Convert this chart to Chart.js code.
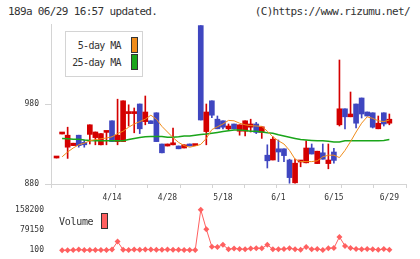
<!DOCTYPE html>
<html>
<head>
<meta charset="utf-8">
<script src="https://cdn.jsdelivr.net/npm/chart.js@4.4.0/dist/chart.umd.min.js"></script>
<style>
  body { margin: 0; background: #fff; width: 420px; height: 259px; overflow: hidden; position: relative;
         font-family: 'DejaVu Sans Mono', monospace; color: #333; }
  .txt { position: absolute; white-space: nowrap; }
  #head { left: 8px; top: 5px; font-size: 11px; letter-spacing: -0.65px; }
  #copy { right: 10px; top: 5px; font-size: 11px; letter-spacing: -0.65px; }
  canvas { position: absolute; left: 0; }
  #main { top: 0; }
  #vol { top: 198px; }
  #legbox { position: absolute; left: 65px; top: 31px; width: 78px; height: 46px; box-sizing: border-box;
            border: 1px solid #d4d4d4; background: #fff; }
  .leg { font-size: 10px; line-height: 10px; letter-spacing: -0.6px; text-align: right; }
  .sw { position: absolute; box-sizing: border-box; border: 1px solid #333; }
</style>
</head>
<body>
<div id="head" class="txt">189a 06/29 16:57 updated.</div>
<div id="copy" class="txt">(C)https://www.rizumu.net/</div>
<canvas id="main" width="420" height="205"></canvas>
<canvas id="vol" width="420" height="64"></canvas>
<div id="legbox"></div>
<div class="txt leg" style="right:299px; top:41px;">5-day MA</div>
<div class="txt leg" style="right:299px; top:58px;">25-day MA</div>
<div class="sw" style="left:131px; top:37px; width:7px; height:16px; background:#f08c1a;"></div>
<div class="sw" style="left:131px; top:54px; width:7px; height:16px; background:#1aa51a;"></div>
<div class="txt" style="left:59px; top:216px; font-size:10px; line-height:11px; letter-spacing:-0.3px;">Volume</div>
<div class="sw" style="left:101px; top:213px; width:7px; height:16px; background:#ff6060;"></div>
<script>
// tick labels
const dateLabels = ['4/14', '4/28', '5/18', '6/1', '6/15', '6/29'];
const dateTickIdx = [10, 20, 30, 40, 50, 60];
const weekMarks = [0, 1, 2, 3, 4, 5, 6, 7, 8, 9, 10, 11];
const priceTicks = [880, 980];
const volTicks = [100, 79150, 158200];

// daily candles (index 0..60)
const opens = [912.5, 942.5, 926, 928, 941, 932, 942, 938, 929, 944.5, 959, 933, 933, 968, 968, 980, 958, 959, 969, 930,
  927.5, 929, 927.5, 925, 930, 928, 1078, 945.5, 984, 961, 959, 949, 955, 946, 946, 951, 955, 944.5, 916, 910,
  924, 924, 910, 881.5, 907.5, 906.5, 925, 905.5, 919, 905.5, 920, 954, 974, 964, 980, 987.5, 970, 969, 949, 969, 956];
const closes = [912.5, 942.5, 941, 931, 928, 929, 954, 945, 943, 944.5, 933, 941, 984, 968, 968, 949, 970, 955.5, 933, 919,
  930, 931, 924, 929, 927.5, 928, 960, 970, 966, 949, 951, 952.5, 949, 954, 959, 955, 944.5, 951.5, 909, 936,
  920, 915.5, 888, 906, 907.5, 925, 917.5, 921, 911, 910, 909.5, 974, 964, 967.5, 956, 967.5, 965, 951, 956, 955, 961];
const highs = [912.5, 942.5, 951, 931, 941, 935, 954, 945, 943, 945, 959, 986, 984, 979, 975, 980, 990, 959, 969, 930,
  930, 950, 927.5, 929, 930, 928, 1078, 980, 984, 965, 959, 955, 955, 954, 959, 961, 957, 951.5, 929, 939,
  935, 924, 911, 911, 907.5, 934, 930, 921, 930, 930, 924.5, 1035, 974, 995, 980, 987.5, 970, 969, 965, 969, 967.5];
const lows = [912.5, 942.5, 912, 928, 926, 926, 930, 929, 929, 929, 933, 929, 933, 952.5, 944, 943, 954, 955.5, 933, 919,
  927.5, 929, 924, 925, 927.5, 928, 960, 929, 963, 949, 949, 947.5, 949, 941, 940, 945, 943, 937, 900, 910,
  908, 908, 881, 881, 901.5, 906.5, 917.5, 905.5, 911, 899, 906, 952.5, 949, 964, 950, 962.5, 965, 950, 949, 952.5, 954];

// moving averages
const ma5 = [null, 914, 920, 925, 929, 931, 934, 935.5, 936.5, 937.5, 939, 943, 946, 951, 955, 958, 961, 966, 961, 952,
  945, 938, 932, 928, 926, 927.5, 929.5, 937, 948, 951.5, 955, 959.5, 959, 956, 954, 953, 952.5, 952, 946, 939,
  934, 930, 922, 911, 908, 908, 908, 909, 914, 916, 916, 913, 922, 933, 945, 956, 964, 962, 959, 958, 960];
const ma25 = [null, 937, 936.5, 936, 936, 935, 934.5, 934, 934, 934, 934, 934, 934, 935.5, 937, 938, 939, 939.5, 939.5, 939.5,
  938.5, 938.5, 939, 940, 940, 941, 942, 942.5, 943.5, 944.5, 945.5, 946.5, 947.5, 947.5, 947, 946, 946, 945, 944, 943.5,
  941.5, 940, 938.5, 937, 935.5, 935, 934.5, 934, 934, 933.5, 932.5, 932.5, 934, 934, 934, 934, 934, 934, 934, 934.5, 935.5];

// volume
const volumes = [null, 100, 100, 800, 2400, 800, 600, 800, 400, 1200, 2400, 33800, 2000, 600, 2400, 2000, 3200, 2400, 1600, 2000,
  2400, 2000, 1600, 1200, 1200, 400, 158200, 82500, 13500, 13000, 21000, 3500, 7000, 4500, 4000, 6500, 8000, 7500, 21000, 4000,
  3500, 4500, 8000, 4000, 1600, 13000, 4000, 4500, 1200, 8000, 8500, 52000, 17000, 9000, 5000, 4000, 4500, 4000, 1600, 4500, 1800];

const RED = '#d40000';
const BLUE = '#3f46c0';
const ORANGE = '#f08c1a';
const GREEN = '#1aa51a';
const VOL = '#ff6060';
const AXIS = '#d4d4d4';
const tickFont = { family: 'DejaVu Sans Mono', size: 8 };

const candleColors = opens.map((o, i) => closes[i] >= o ? RED : BLUE);
const bodies = opens.map((o, i) => ({ x: i, y: [Math.min(o, closes[i]), Math.max(o, closes[i])] }));
const wicks = lows.map((l, i) => ({ x: i, y: [l, highs[i]] }));
const toPoints = arr => arr.map((v, i) => ({ x: i, y: v }));

new Chart(document.getElementById('main'), {
  type: 'bar',
  data: {
    datasets: [
      { type: 'line', data: toPoints(ma5), xAxisID: 'x', borderColor: ORANGE, borderWidth: 1, pointRadius: 0, tension: 0, order: 0 },
      { type: 'line', data: toPoints(ma25), xAxisID: 'x', borderColor: GREEN, borderWidth: 1.5, pointRadius: 0, tension: 0, order: 1 },
      { data: bodies, xAxisID: 'x', backgroundColor: candleColors, barThickness: 5, minBarLength: 2, grouped: false, order: 2 },
      { data: wicks, xAxisID: 'x', backgroundColor: candleColors, barThickness: 1, grouped: false, order: 3 }
    ]
  },
  options: {
    responsive: false,
    animation: false,
    events: [],
    layout: { autoPadding: false, padding: { top: 24, right: 14, left: 0, bottom: 0 } },
    plugins: { legend: { display: false }, tooltip: { enabled: false } },
    scales: {
      xt: {
        type: 'linear', position: 'bottom', weight: 0, min: 0, max: 11, offset: false,
        afterBuildTicks: s => { s.ticks = weekMarks.map(v => ({ value: v })); },
        afterFit: s => { s.height = 5; },
        grid: { drawOnChartArea: false, tickLength: 4, color: AXIS, offset: false },
        border: { display: true, color: AXIS },
        ticks: { display: false }
      },
      x: {
        type: 'linear', position: 'bottom', weight: 1, min: -1, max: 63, offset: false,
        afterBuildTicks: s => { s.ticks = dateTickIdx.map(v => ({ value: v })); },
        afterFit: s => { s.height = 16; },
        grid: { display: false, drawTicks: false, offset: false },
        border: { display: false },
        ticks: { autoSkip: false, maxRotation: 0, padding: 4, color: '#333', font: tickFont,
                 callback: (v, i) => dateLabels[i] }
      },
      y: {
        type: 'linear', position: 'left', min: 880, max: 1080, beginAtZero: false,
        afterBuildTicks: s => { s.ticks = priceTicks.map(v => ({ value: v })); },
        afterFit: s => { s.width = 51; },
        grid: { drawOnChartArea: false, tickLength: 6, color: AXIS },
        border: { color: AXIS },
        ticks: { padding: 6, color: '#333', font: tickFont, callback: v => String(v) }
      }
    }
  }
});

// the volume y axis reserves half a label plus its padding at both ends,
// so the canvas starts higher and is taller to land 158200..100 on 209..249
new Chart(document.getElementById('vol'), {
  type: 'line',
  data: {
    datasets: [{
      data: toPoints(volumes), borderColor: VOL, backgroundColor: VOL, borderWidth: 1,
      pointStyle: 'rectRot', pointRadius: 3, pointBorderWidth: 0, pointBackgroundColor: VOL,
      tension: 0, clip: false
    }]
  },
  options: {
    responsive: false,
    animation: false,
    events: [],
    layout: { autoPadding: false, padding: { top: 0, right: 14, left: 0, bottom: 0 } },
    plugins: { legend: { display: false }, tooltip: { enabled: false } },
    scales: {
      x: { type: 'linear', min: -1, max: 63, display: false },
      y: {
        type: 'linear', min: 100, max: 158200,
        afterBuildTicks: s => { s.ticks = volTicks.map(v => ({ value: v })); },
        afterFit: s => { s.width = 51; },
        grid: { display: false, drawTicks: false },
        border: { display: false },
        ticks: { padding: 7, color: '#333', font: tickFont, callback: v => String(v) }
      }
    }
  }
});
</script>
</body>
</html>
